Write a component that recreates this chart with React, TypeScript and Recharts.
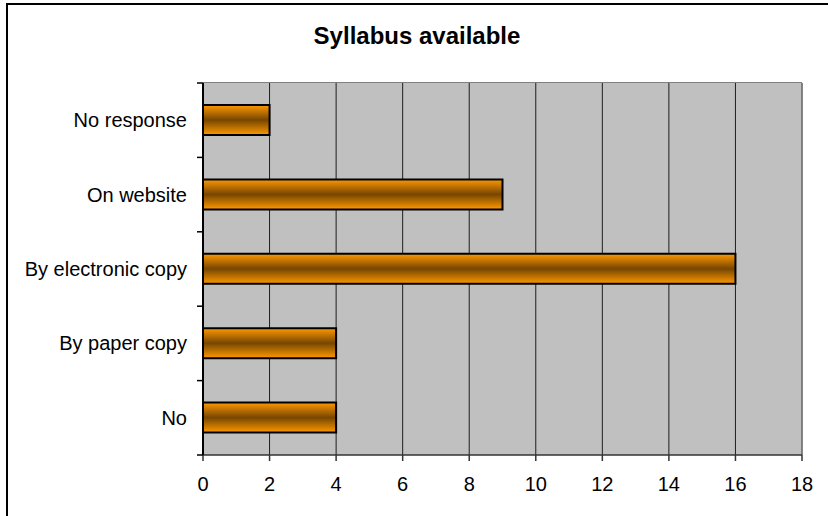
import React from "react";
import { BarChart, Bar, XAxis, YAxis, CartesianGrid, ReferenceLine } from "recharts";

const categories = ["No response", "On website", "By electronic copy", "By paper copy", "No"];
const counts = [2, 9, 16, 4, 4];
const xTicks = [0, 2, 4, 6, 8, 10, 12, 14, 16, 18];

const FONT = "'Liberation Sans', Arial, sans-serif";

const data = categories.map((name, i) => ({ name, value: counts[i] }));

// category label plus tick marks on the band edges (Excel style)
function CategoryTick(props: any) {
  const { x, y, payload, index, visibleTicksCount } = props;
  const half = payload?.offset ?? 0;
  const axisX = x + 6;
  return (
    <g>
      <line x1={axisX - 6} x2={axisX} y1={y - half} y2={y - half} stroke="#000" strokeWidth={1.5} />
      {index === visibleTicksCount - 1 && (
        <line x1={axisX - 6} x2={axisX} y1={y + half} y2={y + half} stroke="#000" strokeWidth={1.5} />
      )}
      <text x={x - 10} y={y} dy="0.35em" textAnchor="end" fill="#000" fontSize={20} fontFamily={FONT}>
        {payload.value}
      </text>
    </g>
  );
}

export default function App() {
  return (
    <div style={{ position: "fixed", left: 0, top: 0, width: 828, height: 516, background: "#fff", overflow: "hidden" }}>
      <div
        style={{
          position: "absolute",
          left: 6,
          top: 3,
          width: 900,
          height: 600,
          borderLeft: "2px solid #000",
          borderTop: "2px solid #000",
        }}
      />
      <div
        style={{
          position: "absolute",
          left: 0,
          top: 24,
          width: 834,
          textAlign: "center",
          fontFamily: FONT,
          fontWeight: "bold",
          fontSize: 24,
          lineHeight: "24px",
          color: "#000",
        }}
      >
        Syllabus available
      </div>
      <div style={{ position: "absolute", left: 0, top: 0 }}>
        <BarChart
          width={828}
          height={516}
          data={data}
          layout="vertical"
          margin={{ top: 83, right: 26, bottom: 21, left: 0 }}
          barSize={30}
        >
          <defs>
            <linearGradient id="barGrad" x1="0" y1="0" x2="0" y2="1">
              <stop offset="0%" stopColor="#FF9900" />
              <stop offset="50%" stopColor="#774600" />
              <stop offset="100%" stopColor="#FF9900" />
            </linearGradient>
          </defs>
          <CartesianGrid fill="#C0C0C0" horizontal={false} stroke="#000" strokeOpacity={0.85} />
          <XAxis
            type="number"
            domain={[0, 18]}
            ticks={xTicks}
            interval={0}
            height={40}
            tickSize={6}
            tickMargin={16}
            stroke="#333"
            strokeWidth={1.5}
            tick={{ fill: "#000", fontSize: 20, fontFamily: FONT }}
          />
          <YAxis
            type="category"
            dataKey="name"
            width={203}
            tickLine={false}
            tickSize={6}
            tick={<CategoryTick />}
            tickMargin={0}
            stroke="#000"
            strokeWidth={2}
            interval={0}
          />
          <ReferenceLine x={18} stroke="#808080" strokeWidth={1.5} />
          <Bar
            dataKey="value"
            fill="url(#barGrad)"
            stroke="#000"
            strokeWidth={2}
            isAnimationActive={false}
          />
        </BarChart>
      </div>
      <div style={{ position: "absolute", left: 203, top: 82, width: 599, height: 0, borderTop: "1.5px solid #808080" }} />
    </div>
  );
}
